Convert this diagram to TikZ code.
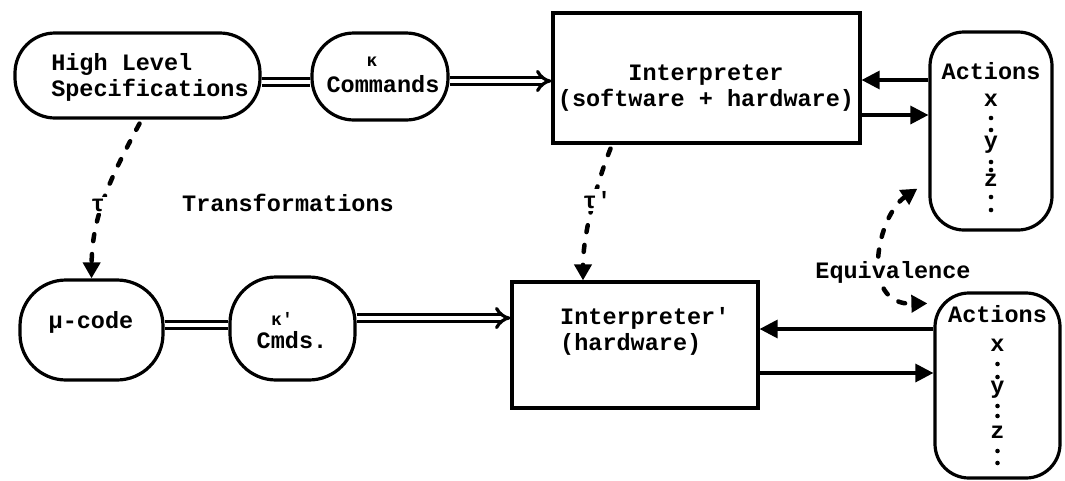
\documentclass[tikz,border=0pt]{standalone}
\usepackage{fontspec}
\setmonofont{Liberation Mono}
\usetikzlibrary{arrows.meta}
\begin{document}
\begin{tikzpicture}[x=1pt,y=-1pt,
  txt/.style={font=\ttfamily\bfseries\fontsize{23.5}{26}\selectfont, inner sep=0pt},
  capsule/.style={draw, line width=3.2pt, rounded corners=#1, inner sep=0pt},
  capsule/.default=40pt,
  box/.style={draw, line width=3.2pt, inner sep=0pt},
  dbl/.style={double, double distance=4pt, line width=3.2pt},
  arr/.style={line width=3.2pt, -{Triangle[length=18pt,width=18pt]}},
  dsh/.style={line width=4.5pt, line cap=round, dash pattern=on 7pt off 13pt},
  dtip/.style={-{Triangle[length=16pt,width=17pt]}},
  dotm/.style={fill=black},
]
\useasboundingbox (0,0) rectangle (1065,480);

% boxes
\node[capsule, minimum width=245pt, minimum height=85pt] (hls) at (137.5,75.5) {};
\node[capsule=42pt, minimum width=136pt, minimum height=87pt] (cmd) at (380,76.5) {};
\node[box, minimum width=307pt, minimum height=130pt] (interp) at (706.5,78) {};
\node[capsule=34pt, minimum width=122pt, minimum height=198pt] (act1) at (991,131) {};

\node[capsule=46pt, minimum width=143pt, minimum height=100pt] (mu) at (91.5,330) {};
\node[capsule=46pt, minimum width=125pt, minimum height=103pt] (cmd2) at (292.5,328.5) {};
\node[box, minimum width=246pt, minimum height=126pt] (interp2) at (635,345) {};
\node[capsule=34pt, minimum width=125pt, minimum height=185pt] (act2) at (997.5,385.5) {};

% texts
\node[txt, align=left] (hlsT) at (150,77) {High Level\\Specifications};
\node[txt, align=center] (cmdT) at (383,75) {{\fontsize{18}{18}\selectfont κ}\hspace*{22pt}\\Commands};
\node[txt, align=center] (interpT) at (706,88) {Interpreter\\(software + hardware)};
\node[txt, align=center, anchor=north] (act1T) at (991,62) {Actions\\[1pt]x\\[16pt]y\\[12pt]z};

\node[txt] (muT) at (91,322) {μ-code};
\node[txt, align=center] (cmd2T) at (292,331) {{\fontsize{18}{18}\selectfont κ'}\hspace*{20pt}\\[-3pt]Cmds.};
\node[txt, align=left, anchor=west] (interp2T) at (560,331) {Interpreter'\\(hardware)};
\node[txt, align=center, anchor=north] (act2T) at (997.5,305) {Actions\\[3pt]x\\[16pt]y\\[19pt]z};

\node[txt] (transT) at (288,203) {Transformations};

% dotted columns between the action letters
\foreach \y in {118,130,162,170,197,210} \fill[dotm] (991,\y) circle (2.3pt);
\foreach \y in {364,377,406,416,451,463} \fill[dotm] (997.5,\y) circle (2.3pt);

% double connectors
\draw[dbl] ([yshift=-6.5pt]hls.east) -- ([yshift=-6.5pt]hls.east -| cmd.west);
\draw[dbl, -{Implies[scale=1.8]}] ([yshift=-4.5pt]cmd.east) -- ([yshift=-4.5pt]cmd.east -| interp.west);
\draw[dbl] ([yshift=5pt]mu.east) -- ([yshift=5pt]mu.east -| cmd2.west);
\draw[dbl, -{Implies[scale=1.8]}] ([yshift=10.5pt]cmd2.east) -- ([yshift=10.5pt]cmd2.east -| interp2.west);

% single arrows
\draw[arr] ([yshift=-2pt]interp.east -| act1.west) -- ([yshift=-2pt]interp.east);
\draw[arr] ([yshift=-37pt]interp.east) -- ([yshift=-37pt]interp.east -| act1.west);
\draw[arr] ([yshift=16pt]interp2.east -| act2.west) -- ([yshift=16pt]interp2.east);
\draw[arr] ([yshift=-28pt]interp2.east) -- ([yshift=-28pt]interp2.east -| act2.west);

% dashed transformations
\draw[dsh, dtip] ([xshift=2pt,yshift=-4pt]hls.south) .. controls (112,175) and (92,215) .. (mu.north);
\node[txt, fill=white, inner sep=2pt] (tau) at (98,205) {τ};
\draw[dsh, dtip] ([xshift=-96pt,yshift=-4pt]interp.south) .. controls (596,185) and (583,235) .. ([xshift=-52pt]interp2.north);
\node[txt, fill=white, inner sep=2pt] (taup) at (597,200) {τ'};

\coordinate (eqA) at ([xshift=-11pt,yshift=43pt]act1.south west);
\coordinate (eqB) at ([xshift=-6pt,yshift=-12pt]act2.north west);
\draw[dsh, {Triangle[length=16pt,width=17pt]}-{Triangle[length=16pt,width=17pt]}] (eqA) .. controls (878,215) and (858,305) .. (eqB);
\node[txt, fill=white, inner sep=2pt] (equivT) at (893,272) {Equivalence};
\end{tikzpicture}
\end{document}
